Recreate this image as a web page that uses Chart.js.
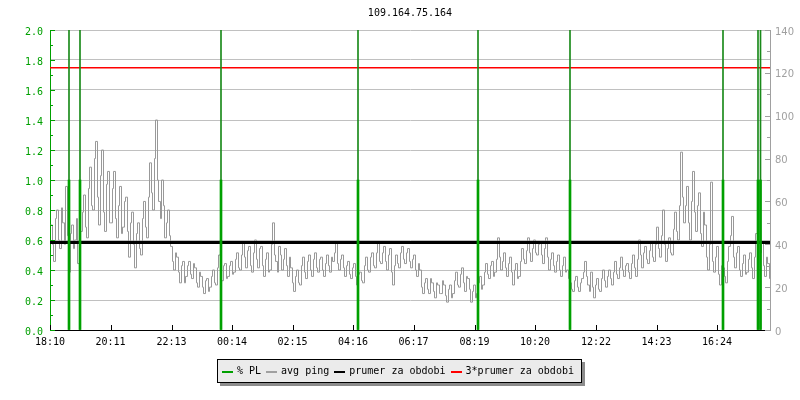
<!DOCTYPE html>
<html>
<head>
<meta charset="utf-8">
<script src="https://cdn.jsdelivr.net/npm/chart.js@4.4.0/dist/chart.umd.min.js"></script>
<style>
  html, body { margin: 0; padding: 0; background: #fff; }
  #wrap { width: 800px; height: 400px; }
</style>
</head>
<body>
<div id="wrap"><canvas id="graf" width="800" height="400"></canvas></div>
<script>
const graphTitle = '109.164.75.164';

// x axis: minutes since 18:10
const xMaxMin = 1440;
const tickMinutes = [0, 121, 243, 364, 485, 606, 727, 849, 970, 1092, 1213, 1334];
const tickLabels = ['18:10', '20:11', '22:13', '00:14', '02:15', '04:16', '06:17', '08:19', '10:20', '12:22', '14:23', '16:24'];

// avg ping [ms], samples at minute 1, 7, 13 ... (pingMs)
// and the samples in between at minute 5, 11, 17 ... (pingMsMid)
const pingStepMin = 6;
const pingFirstMin = 1;
const pingMidShiftMin = 4;
const pingMs = [
  49, 32, 56, 38, 50, 67, 27, 49, 42, 31,
  46, 63, 43, 76, 56, 88, 49, 84, 46, 74,
  50, 74, 43, 67, 48, 62, 34, 55, 29, 50,
  35, 60, 43, 78, 56, 98, 60, 70, 43, 56,
  39, 28, 34, 22, 32, 25, 32, 24, 29, 20,
  25, 17, 24, 20, 28, 21, 35, 23, 31, 25,
  32, 27, 36, 28, 41, 29, 39, 27, 42, 29,
  39, 25, 36, 28, 50, 32, 39, 28, 38, 25,
  29, 18, 28, 21, 34, 24, 35, 25, 36, 27,
  34, 25, 35, 27, 32, 41, 28, 35, 25, 32,
  24, 31, 21, 27, 22, 34, 27, 36, 29, 41,
  31, 39, 28, 38, 21, 35, 29, 39, 31, 38,
  29, 35, 25, 28, 17, 24, 17, 22, 15, 21,
  17, 21, 13, 21, 17, 27, 20, 29, 18, 24,
  13, 21, 17, 25, 21, 31, 24, 32, 27, 43,
  28, 36, 25, 34, 21, 31, 25, 38, 31, 43,
  32, 42, 35, 41, 31, 43, 28, 36, 27, 35,
  25, 34, 28, 22, 18, 25, 18, 24, 32, 21,
  27, 15, 24, 18, 28, 20, 28, 21, 32, 24,
  34, 25, 31, 24, 35, 25, 42, 29, 39, 31,
  41, 32, 48, 34, 56, 32, 43, 35, 55, 42,
  83, 50, 67, 42, 74, 46, 64, 39, 49, 28,
  69, 27, 39, 21, 29, 22, 39, 53, 29, 39,
  25, 35, 27, 36, 24, 45, 28, 41, 25, 31, 21
];
const pingMsMid = [
  40, 52, 42, 57, 40, 44, 45, 38, 52, 44,
  55, 48, 66, 58, 80, 62, 72, 55, 68, 50,
  66, 52, 58, 45, 60, 46, 50, 40, 45, 38,
  52, 48, 62, 64, 80, 70, 52, 58, 50, 44,
  32, 36, 27, 30, 22, 30, 26, 31, 22, 27,
  20, 23, 18, 25, 22, 29, 27, 30, 24, 30,
  26, 33, 29, 35, 34, 37, 30, 36, 33, 38,
  30, 33, 27, 40, 35, 27, 35, 33, 30, 34,
  22, 25, 22, 30, 27, 32, 28, 33, 29, 33,
  28, 31, 30, 34, 36, 31, 33, 29, 30, 26,
  29, 25, 26, 23, 30, 28, 34, 30, 36, 32,
  36, 32, 35, 27, 30, 31, 36, 33, 36, 32,
  33, 28, 31, 20, 22, 19, 24, 18, 22, 17,
  23, 16, 19, 15, 23, 21, 26, 22, 25, 19,
  18, 15, 22, 19, 27, 26, 30, 25, 33, 34,
  32, 29, 31, 27, 28, 24, 32, 33, 37, 36,
  38, 36, 40, 35, 38, 34, 33, 30, 32, 28,
  30, 27, 24, 19, 23, 20, 22, 27, 25, 18,
  20, 21, 19, 24, 23, 25, 24, 27, 26, 29,
  28, 30, 27, 31, 29, 33, 35, 36, 33, 37,
  34, 40, 38, 44, 40, 38, 36, 47, 46, 58,
  62, 58, 50, 60, 55, 58, 45, 55, 34, 40,
  32, 34, 26, 30, 25, 32, 44, 34, 36, 28,
  31, 26, 33, 29, 34, 33, 36, 30, 34, 24
];

// packet loss events
const plMinutes = [38, 60, 342, 616, 856, 1040, 1346, 1416, 1421];
const plPercent = [1, 1, 1, 1, 1, 1, 1, 1, 1];
const plMarkTop = [2, 2, 2, 2, 2, 2, 2, 2, 2];

// average for the period [ms]
const meanMs = 40.8;

const GREEN = '#00a000';
const MONO = '"DejaVu Sans Mono", monospace';

Chart.defaults.font.family = MONO;
Chart.defaults.font.size = 10;
Chart.defaults.color = '#000';

// little ticks drawn on the inner side of the axes
const innerTicks = {
  id: 'innerTicks',
  afterDatasetsDraw(chart) {
    const { ctx, chartArea: a, scales } = chart;
    ctx.save();
    ctx.lineWidth = 1;
    ctx.strokeStyle = GREEN;
    for (let k = 0; k <= 20; k++) {
      const py = Math.round(scales.y.getPixelForValue(k / 10)) + 0.5;
      const len = k % 2 ? 3 : 5;
      ctx.beginPath(); ctx.moveTo(a.left, py); ctx.lineTo(a.left + len, py); ctx.stroke();
    }
    ctx.strokeStyle = '#a0a0a0';
    for (let k = 0; k <= 14; k++) {
      const py = Math.round(scales.y1.getPixelForValue(k * 10)) + 0.5;
      const len = k % 2 ? 3 : 5;
      ctx.beginPath(); ctx.moveTo(a.right - len, py); ctx.lineTo(a.right, py); ctx.stroke();
    }
    ctx.strokeStyle = '#000';
    tickMinutes.forEach(m => {
      const px = Math.round(scales.x.getPixelForValue(m)) + 0.5;
      ctx.beginPath(); ctx.moveTo(px, a.bottom - 5); ctx.lineTo(px, a.bottom); ctx.stroke();
    });
    ctx.restore();
  }
};

// rrd style legend box with a shadow
const legendBox = {
  id: 'legendBox',
  afterDraw(chart) {
    const ctx = chart.ctx;
    const items = chart.data.datasets.filter(d => d.inLegend);
    ctx.save();
    ctx.font = '10px ' + MONO;
    const sw = 11, gapIn = 4, gapOut = 5, padL = 5, padR = 8, h = 24;
    let w = padL + padR;
    items.forEach((d, i) => {
      w += sw + gapIn + ctx.measureText(d.label).width + (i < items.length - 1 ? gapOut : 0);
    });
    w = Math.round(w);
    const x0 = Math.round(chart.width / 2 - w / 2) - 1, y0 = 359;
    ctx.fillStyle = '#8c8c8c';
    ctx.fillRect(x0 + 3, y0 + 3, w, h);
    ctx.fillStyle = '#ebebeb';
    ctx.fillRect(x0, y0, w, h);
    ctx.strokeStyle = '#000';
    ctx.lineWidth = 1;
    ctx.strokeRect(x0 + 0.5, y0 + 0.5, w - 1, h - 1);
    let x = x0 + padL;
    ctx.textAlign = 'left';
    ctx.textBaseline = 'alphabetic';
    items.forEach(d => {
      ctx.fillStyle = d.legendColor;
      ctx.fillRect(Math.round(x), y0 + 12, sw, 2);
      x += sw + gapIn;
      ctx.fillStyle = '#000';
      ctx.fillText(d.label, x, y0 + 15);
      x += ctx.measureText(d.label).width + gapOut;
    });
    ctx.restore();
  }
};

// merge the two sample sets in time order
const pingPoints = [];
pingMs.forEach((v, i) => {
  const t = pingFirstMin + i * pingStepMin;
  pingPoints.push({ x: t, y: v });
  if (i < pingMsMid.length) pingPoints.push({ x: t + pingMidShiftMin, y: pingMsMid[i] });
});

new Chart(document.getElementById('graf'), {
  type: 'line',
  data: {
    datasets: [
      {
        type: 'bar', label: '% PL', inLegend: true, legendColor: GREEN,
        data: plMinutes.map((m, i) => ({ x: m, y: plPercent[i] })),
        backgroundColor: GREEN, barThickness: 2, grouped: false,
        yAxisID: 'y', order: 1
      },
      {
        type: 'bar', label: 'PL mark',
        data: plMinutes.map((m, i) => ({ x: m, y: plMarkTop[i] })),
        backgroundColor: '#1a8a1a', barThickness: 1, grouped: false,
        yAxisID: 'y', order: 2
      },
      {
        label: 'avg ping', inLegend: true, legendColor: '#a0a0a0',
        data: pingPoints,
        borderColor: '#999999', borderWidth: 1, pointRadius: 0, stepped: true,
        yAxisID: 'y1', order: 5
      },
      {
        label: 'prumer za obdobi', inLegend: true, legendColor: '#000',
        data: [{ x: 0, y: meanMs }, { x: xMaxMin, y: meanMs }],
        borderColor: '#000', borderWidth: 3, pointRadius: 0,
        yAxisID: 'y1', order: 3
      },
      {
        label: '3*prumer za obdobi', inLegend: true, legendColor: '#ff0000',
        data: [{ x: 0, y: 3 * meanMs }, { x: xMaxMin, y: 3 * meanMs }],
        borderColor: '#ff0000', borderWidth: 1.5, pointRadius: 0,
        yAxisID: 'y1', order: 4
      }
    ]
  },
  options: {
    responsive: false,
    animation: false,
    devicePixelRatio: 1,
    layout: { padding: 0 },
    plugins: {
      legend: { display: false },
      tooltip: { enabled: false },
      title: {
        display: true, fullSize: false, text: graphTitle, color: '#000',
        font: { family: MONO, size: 10, weight: 'normal' },
        padding: { top: 7, bottom: 11 }
      }
    },
    scales: {
      x: {
        type: 'linear', min: 0, max: xMaxMin, offset: false,
        afterFit: s => { s.height = 70; },
        afterBuildTicks: s => { s.ticks = tickMinutes.map(v => ({ value: v })); },
        grid: { display: false, drawTicks: false, offset: false },
        border: { color: '#000', width: 1 },
        ticks: {
          autoSkip: false, maxRotation: 0, padding: 6, color: '#000',
          callback: (v, i) => tickLabels[i]
        }
      },
      y: {
        position: 'left', min: 0, max: 2,
        afterFit: s => { s.width = 50; },
        grid: { color: '#c0c0c0', drawTicks: false },
        border: { color: GREEN, width: 1 },
        ticks: { stepSize: 0.2, padding: 7, color: GREEN, labelOffset: 2, callback: v => v.toFixed(1) }
      },
      y1: {
        position: 'right', min: 0, max: 140,
        afterFit: s => { s.width = 30; },
        grid: { display: false, drawTicks: false },
        border: { color: '#a0a0a0', width: 1 },
        ticks: {
          stepSize: 20, padding: 5, color: '#a0a0a0', labelOffset: 2,
          font: { family: '"DejaVu Sans", sans-serif', size: 10 }
        }
      }
    }
  },
  plugins: [innerTicks, legendBox]
});
</script>
</body>
</html>
